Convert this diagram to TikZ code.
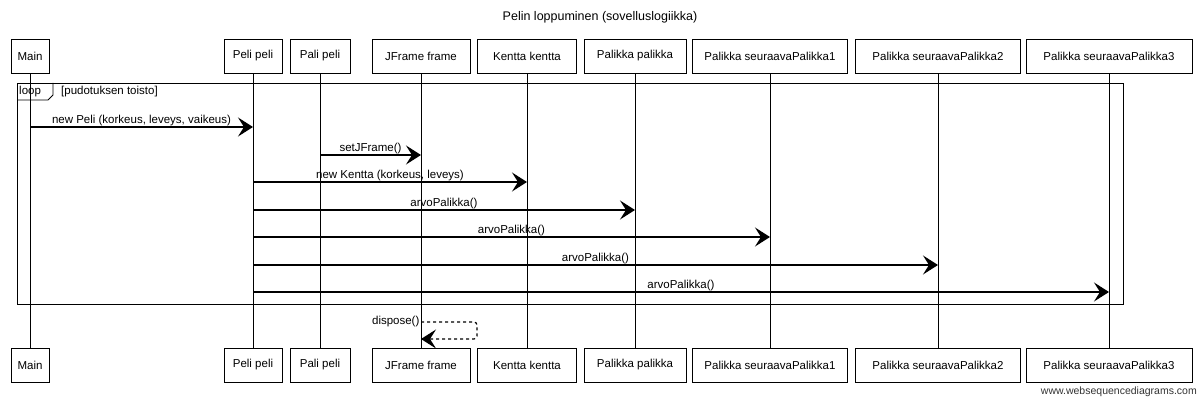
\documentclass[tikz,border=0pt]{standalone}
\usepackage{fontspec}
\setmainfont{Liberation Sans}
\usetikzlibrary{arrows.meta}

\begin{document}
\begin{tikzpicture}[x=1pt,y=-1pt,
    actor/.style={draw,line width=0.8pt,minimum height=34pt,inner sep=2pt,font=\fontsize{11.5}{13}\selectfont},
    life/.style={line width=0.7pt},
    msg/.style={line width=1.2pt,-{Stealth[length=15pt,width=19pt,inset=6pt]}},
    reply/.style={msg,dashed,rounded corners=3pt},
    lbl/.style={inner sep=1pt,font=\fontsize{11.5}{13}\selectfont}]
  \useasboundingbox (0,0) rectangle (1200,401);
  \node[font=\fontsize{12.5}{14}\selectfont] (title) at (600,17) {Pelin loppuminen (sovelluslogiikka)};
  % osallistujat ylhaalla
  \node[actor,minimum width=38pt] (main) at (30,56) {Main};
  \node[actor,minimum width=58pt] (peli) at (253,56) {Peli peli};
  \node[actor,minimum width=60pt] (pali) at (320,56) {Pali peli};
  \node[actor,minimum width=98pt] (frame) at (421,56) {JFrame frame};
  \node[actor,minimum width=99pt] (kentta) at (527,56) {Kentta kentta};
  \node[actor,minimum width=102pt] (palikka) at (635,56) {Palikka palikka};
  \node[actor,minimum width=155pt] (seur1) at (770,56) {Palikka seuraavaPalikka1};
  \node[actor,minimum width=165pt] (seur2) at (938,56) {Palikka seuraavaPalikka2};
  \node[actor,minimum width=166pt] (seur3) at (1109,56) {Palikka seuraavaPalikka3};
  % osallistujat alhaalla
  \node[actor,minimum width=38pt] (mainB) at (30,365) {Main};
  \node[actor,minimum width=58pt] (peliB) at (253,365) {Peli peli};
  \node[actor,minimum width=60pt] (paliB) at (320,365) {Pali peli};
  \node[actor,minimum width=98pt] (frameB) at (421,365) {JFrame frame};
  \node[actor,minimum width=99pt] (kenttaB) at (527,365) {Kentta kentta};
  \node[actor,minimum width=102pt] (palikkaB) at (635,365) {Palikka palikka};
  \node[actor,minimum width=155pt] (seur1B) at (770,365) {Palikka seuraavaPalikka1};
  \node[actor,minimum width=165pt] (seur2B) at (938,365) {Palikka seuraavaPalikka2};
  \node[actor,minimum width=166pt] (seur3B) at (1109,365) {Palikka seuraavaPalikka3};
  % elamanlangat
  \draw[life] (main) -- (mainB);
  \draw[life] (peli) -- (peliB);
  \draw[life] (pali) -- (paliB);
  \draw[life] (frame) -- (frameB);
  \draw[life] (kentta) -- (kenttaB);
  \draw[life] (palikka) -- (palikkaB);
  \draw[life] (seur1) -- (seur1B);
  \draw[life] (seur2) -- (seur2B);
  \draw[life] (seur3) -- (seur3B);
  % loop-kehys
  \draw[line width=0.8pt] (17,83) rectangle (1123,304);
  \draw[line width=0.8pt] (17,100) -- (48,100) -- (53,95) -- (53,83);
  \node[lbl,anchor=west] (looptag) at (18,91.5) {loop};
  \node[lbl,anchor=west] (loopcond) at (60,91.5) {[pudotuksen toisto]};
  % viestien korkeudet
  \coordinate (y1) at (0,127);
  \coordinate (y2) at (0,155);
  \coordinate (y3) at (0,182);
  \coordinate (y4) at (0,210);
  \coordinate (y5) at (0,237);
  \coordinate (y6) at (0,265);
  \coordinate (y7) at (0,292);
  \coordinate (y8) at (0,322);
  \coordinate (y9) at (0,339);
  \draw[msg] (main |- y1) -- node[lbl,above] {new Peli (korkeus, leveys, vaikeus)} (peli |- y1);
  \draw[msg] (pali |- y2) -- node[lbl,above] {setJFrame()} (frame |- y2);
  \draw[msg] (peli |- y3) -- node[lbl,above] {new Kentta (korkeus, leveys)} (kentta |- y3);
  \draw[msg] (peli |- y4) -- node[lbl,above] {arvoPalikka()} (palikka |- y4);
  \draw[msg] (peli |- y5) -- node[lbl,above] {arvoPalikka()} (seur1 |- y5);
  \draw[msg] (peli |- y6) -- node[lbl,above] {arvoPalikka()} (seur2 |- y6);
  \draw[msg] (peli |- y7) -- node[lbl,above] {arvoPalikka()} (seur3 |- y7);
  \draw[reply] (frame |- y8) node[lbl,left] {dispose()} -| ([xshift=56pt]frame |- y9) -- (frame |- y9);
  \node[anchor=south east,inner sep=0pt,font=\fontsize{10.5}{12}\selectfont,text=black!80] (credit) at (1197,397) {www.websequencediagrams.com};
\end{tikzpicture}
\end{document}
